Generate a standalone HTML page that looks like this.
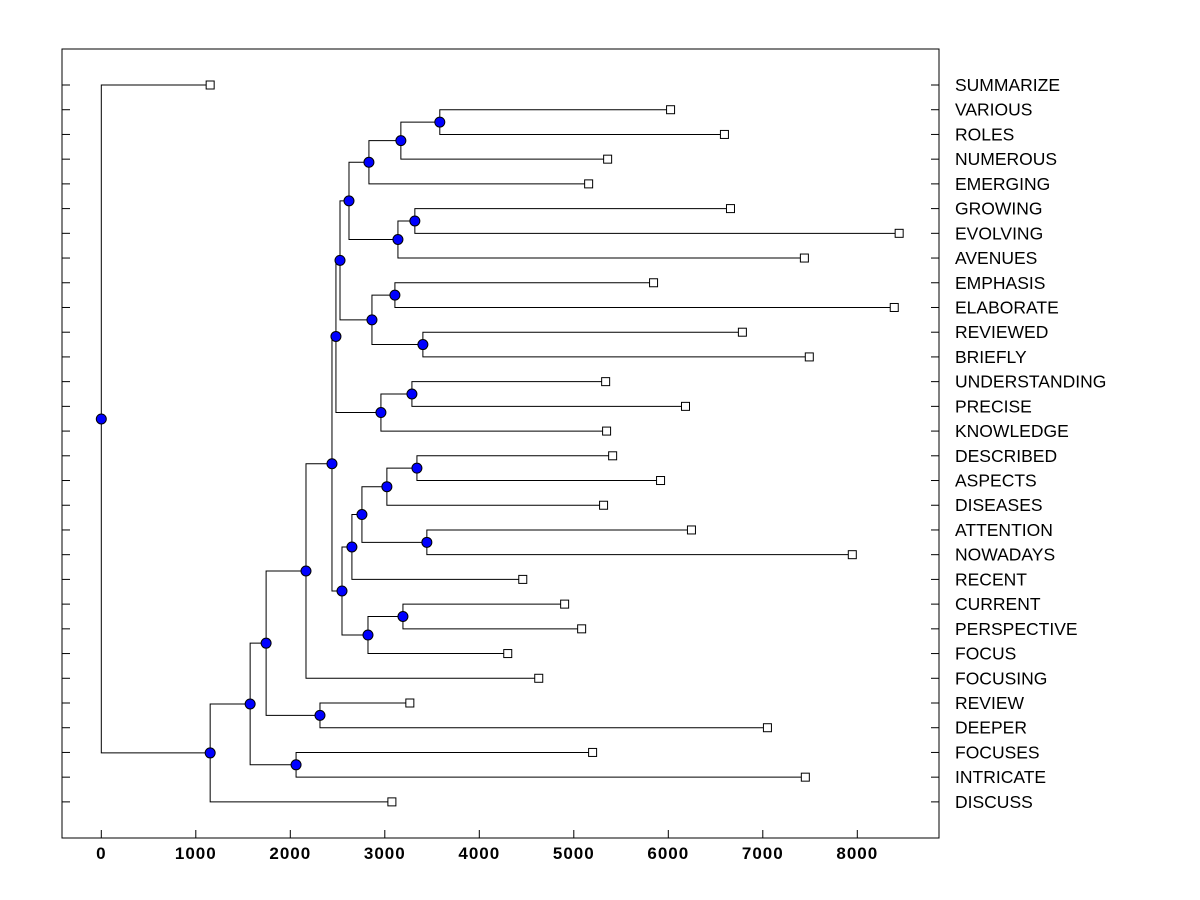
<!DOCTYPE html>
<html><head><meta charset="utf-8"><style>
body{margin:0;background:#fff;}
svg{display:block;font-family:"Liberation Sans",Arial,sans-serif;}
</style></head><body>
<svg id="chart" width="1200" height="900"></svg>
<script>
const leafNames=["SUMMARIZE","VARIOUS","ROLES","NUMEROUS","EMERGING","GROWING","EVOLVING","AVENUES","EMPHASIS","ELABORATE","REVIEWED","BRIEFLY","UNDERSTANDING","PRECISE","KNOWLEDGE","DESCRIBED","ASPECTS","DISEASES","ATTENTION","NOWADAYS","RECENT","CURRENT","PERSPECTIVE","FOCUS","FOCUSING","REVIEW","DEEPER","FOCUSES","INTRICATE","DISCUSS"];
const leafValues=[1152,6024,6594,5358,5157,6658,8443,7440,5844,8391,6784,7492,5337,6182,5347,5411,5918,5315,6245,7947,4460,4903,5083,4301,4629,3265,7049,5199,7450,3075];
const mergeLeft=["L1","N0","N1","L5","N3","N2","L8","L10","N6","N5","L12","N10","N9","L15","N13","L18","N14","N16","L21","N18","N17","N12","N21","L25","N22","L27","N24","N26","L0"];
const mergeRight=["L2","L3","L4","L6","L7","N4","L9","L11","N7","N8","L13","L14","N11","L16","L17","L19","N15","L20","L22","L23","N19","N20","L24","L26","N23","L28","N25","L29","N27"];
const mergeHeights=[3582,3170,2832,3318,3139,2621,3107,3403,2864,2526,3287,2959,2483,3340,3022,3445,2758,2652,3192,2822,2547,2441,2166,2314,1744,2061,1575,1152,0];
const xTicks=[0,1000,2000,3000,4000,5000,6000,7000,8000];
</script>
<script>
const NS="http://www.w3.org/2000/svg";
const svg=document.getElementById('chart');
const L=62,R=939,T=49,B=838;
const x0=101.3,pxPer=0.0945;
const X=v=>x0+v*pxPer;
const Y=i=>85+i*24.72;
function mk(tag,attrs,name,inter){const e=document.createElementNS(NS,tag);for(const k in attrs)e.setAttribute(k,attrs[k]);


svg.appendChild(e);return e;}
mk('rect',{x:L,y:T,width:R-L,height:B-T,fill:'none',stroke:'#000','stroke-width':1},'plot-frame',false);
leafNames.forEach((n,i)=>{
 const y=Y(i);
 mk('line',{x1:L,x2:L+8,y1:y,y2:y,stroke:'#000'},'left-tick',false);
 mk('line',{x1:R-8,x2:R,y1:y,y2:y,stroke:'#000'},'right-tick',false);
 const t=mk('text',{x:955,y:y+6,'font-size':17.5,fill:'#000'},'leaf-label-'+n.toLowerCase(),false);t.textContent=n;
});
xTicks.forEach(v=>{
 mk('line',{x1:X(v),x2:X(v),y1:B,y2:B-8,stroke:'#000'},'x-tick',false);
 const t=mk('text',{x:X(v),y:859,'font-size':17,'font-weight':'bold','letter-spacing':1,'text-anchor':'middle'},'x-tick-label',false);t.textContent=v;
});
const pos={};
leafNames.forEach((n,i)=>{pos['L'+i]={x:X(leafValues[i]),y:Y(i)};});
const dots=[];
mergeHeights.forEach((h,k)=>{
 const a=pos[mergeLeft[k]],b=pos[mergeRight[k]],hx=X(h);
 mk('polyline',{points:`${a.x},${a.y} ${hx},${a.y} ${hx},${b.y} ${b.x},${b.y}`,fill:'none',stroke:'#000','stroke-width':1},'branch',false);
 pos['N'+k]={x:hx,y:(a.y+b.y)/2};
 dots.push(pos['N'+k]);
});
leafNames.forEach((n,i)=>{const p=pos['L'+i];
 mk('rect',{x:p.x-4,y:p.y-4,width:8,height:8,fill:'#fff',stroke:'#000'},'leaf-marker-'+n.toLowerCase(),false);});
dots.forEach(p=>mk('circle',{cx:p.x,cy:p.y,r:5,fill:'#0000ff',stroke:'#000'},'merge-node',false));
</script>
</body></html>
